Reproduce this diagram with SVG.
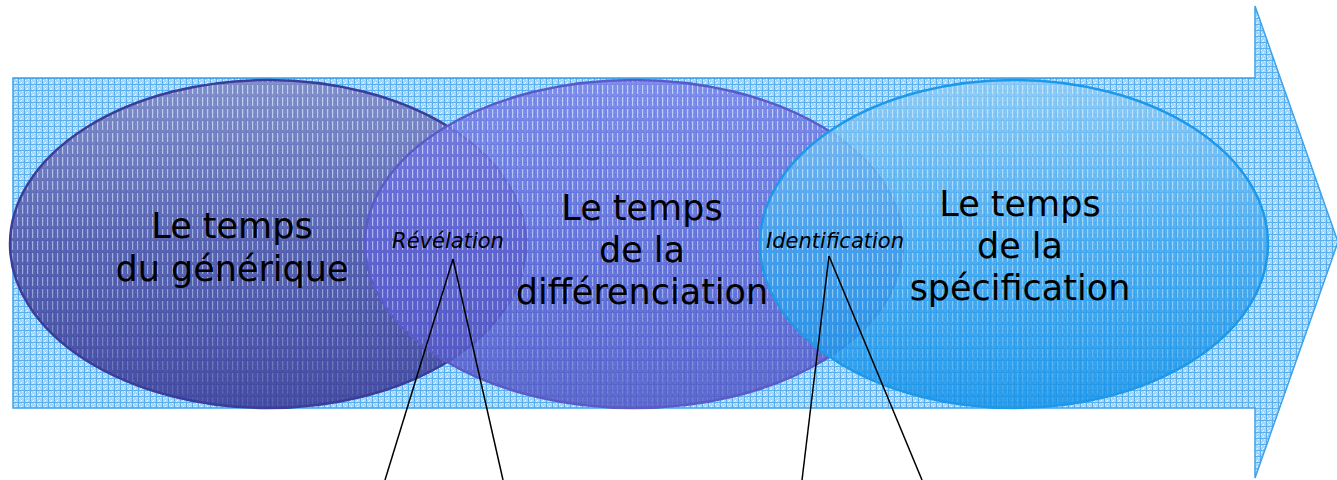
<svg xmlns="http://www.w3.org/2000/svg" width="1337" height="480" viewBox="0 0 1337 480">
<style>
.big{font-family:"DejaVu Sans","Verdana",sans-serif;font-size:35px;fill:#000;text-anchor:middle}
.lab{font-family:"DejaVu Sans","Verdana",sans-serif;font-size:21px;font-style:italic;fill:#000;text-anchor:middle}
.conn{stroke:#000;stroke-width:1.5;fill:none}
</style>
<defs>
<pattern id="grid" width="6" height="6" patternUnits="userSpaceOnUse">
<rect width="6" height="6" fill="#a6d5f6"/>
<rect x="1" y="2" width="1" height="1" fill="#fff"/>
<rect x="3" y="4" width="1" height="1" fill="#fff"/>
<rect x="4" y="1" width="1" height="1" fill="#e6f4fd"/>
<rect x="2" y="5" width="1" height="1" fill="#e6f4fd"/>
<rect x="0" y="0" width="6" height="1" fill="#5aafee"/>
<rect x="0" y="0" width="1" height="6" fill="#5aafee"/>
</pattern>
<pattern id="dash" width="5" height="12" patternUnits="userSpaceOnUse">
<rect x="2" y="1" width="1.2" height="9" fill="#d8eefd" opacity="0.75"/>
</pattern>
<linearGradient id="fade" x1="0" y1="0" x2="0" y2="1">
<stop offset="0" stop-color="#fff" stop-opacity="0.95"/>
<stop offset="0.6" stop-color="#fff" stop-opacity="0.7"/>
<stop offset="1" stop-color="#fff" stop-opacity="0.15"/>
</linearGradient>
<mask id="fm" maskContentUnits="objectBoundingBox">
<rect width="1" height="1" fill="url(#fade)"/>
</mask>
<linearGradient id="g1" x1="0" y1="0" x2="0" y2="1">
<stop offset="0" stop-color="#8088c4"/>
<stop offset="0.5" stop-color="#5257aa"/>
<stop offset="1" stop-color="#3b3d98"/>
</linearGradient>
<linearGradient id="g2" x1="0" y1="0" x2="0" y2="1">
<stop offset="0" stop-color="#7a80e6"/>
<stop offset="0.5" stop-color="#6064d6"/>
<stop offset="1" stop-color="#5256c4"/>
</linearGradient>
<linearGradient id="g3" x1="0" y1="0" x2="0" y2="1">
<stop offset="0" stop-color="#8ccaf5"/>
<stop offset="0.5" stop-color="#40a6ee"/>
<stop offset="1" stop-color="#1391e8"/>
</linearGradient>
</defs>
<g id="arrow">
<polygon points="13,78 1255,78 1255,6 1338,242 1255,478 1255,408 13,408" fill="url(#grid)" stroke="#3ea2ea" stroke-width="1.5"/>
</g>
<g id="node-generique">
<ellipse cx="268" cy="244" rx="258" ry="164" fill="url(#g1)" opacity="0.9"/>
<ellipse cx="268" cy="244" rx="258" ry="164" fill="url(#dash)" mask="url(#fm)"/>
<ellipse cx="268" cy="244" rx="258" ry="164" fill="none" stroke="#3b3d9c" stroke-width="2.5"/>
<text class="big" x="232" y="238">Le temps</text>
<text class="big" x="232" y="281">du générique</text>
</g>
<g id="node-differenciation">
<ellipse cx="634" cy="244" rx="269" ry="164" fill="url(#g2)" opacity="0.85"/>
<ellipse cx="634" cy="244" rx="269" ry="164" fill="url(#dash)" mask="url(#fm)"/>
<ellipse cx="634" cy="244" rx="269" ry="164" fill="none" stroke="#5a5bc8" stroke-width="2.5"/>
<text class="big" x="642" y="220">Le temps</text>
<text class="big" x="642" y="262">de la</text>
<text class="big" x="642" y="304">différenciation</text>
</g>
<g id="node-specification">
<ellipse cx="1014" cy="244" rx="254" ry="164" fill="url(#g3)" opacity="0.85"/>
<ellipse cx="1014" cy="244" rx="254" ry="164" fill="url(#dash)" mask="url(#fm)"/>
<ellipse cx="1014" cy="244" rx="254" ry="164" fill="none" stroke="#1e98e8" stroke-width="2.5"/>
<text class="big" x="1020" y="216">Le temps</text>
<text class="big" x="1020" y="258">de la</text>
<text class="big" x="1020" y="300">spécification</text>
</g>
<g id="node-revelation">
<text class="lab" x="448" y="248">Révélation</text>
</g>
<g id="node-identification">
<text class="lab" x="835" y="248">Identification</text>
</g>
<g id="connectors">
<line class="conn" x1="453" y1="259" x2="385" y2="480"/>
<line class="conn" x1="453" y1="259" x2="503" y2="480"/>
<line class="conn" x1="829" y1="256" x2="802" y2="480"/>
<line class="conn" x1="829" y1="256" x2="922" y2="480"/>
</g>
</svg>
